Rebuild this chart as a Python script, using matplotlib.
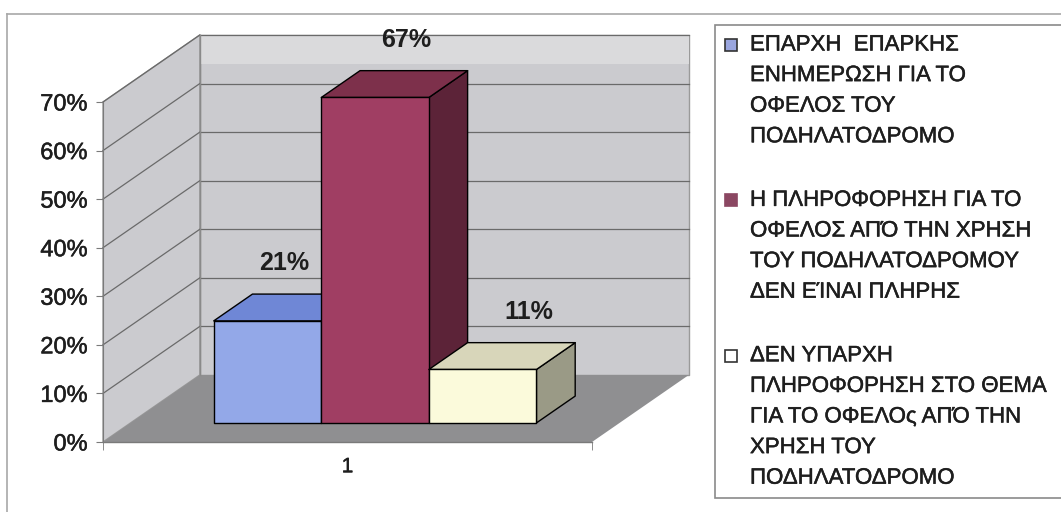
import matplotlib.pyplot as plt
import matplotlib.patheffects as pe
from matplotlib.patches import Polygon, Rectangle
from matplotlib.lines import Line2D
from matplotlib.ticker import PercentFormatter

plt.rcParams['font.family'] = ['Liberation Sans', 'DejaVu Sans']

# survey answers, one category with three series
categories = ['1']
series_values = [0.21, 0.67, 0.11]
series_labels = [
    ['ΕΠΑΡΧΗ  ΕΠΑΡΚΗΣ', 'ΕΝΗΜΕΡΩΣΗ ΓΙΑ ΤΟ', 'ΟΦΕΛΟΣ ΤΟΥ', 'ΠΟΔΗΛΑΤΟΔΡΟΜΟ'],
    ['Η ΠΛΗΡΟΦΟΡΗΣΗ ΓΙΑ ΤΟ', 'ΟΦΕΛΟΣ ΑΠΌ ΤΗΝ ΧΡΗΣΗ', 'ΤΟΥ ΠΟΔΗΛΑΤΟΔΡΟΜΟΥ',
     'ΔΕΝ ΕΊΝΑΙ ΠΛΗΡΗΣ'],
    ['ΔΕΝ ΥΠΑΡΧΗ', 'ΠΛΗΡΟΦΟΡΗΣΗ ΣΤΟ ΘΕΜΑ', 'ΓΙΑ ΤΟ ΟΦΕΛΟς ΑΠΌ ΤΗΝ', 'ΧΡΗΣΗ ΤΟΥ',
     'ΠΟΔΗΛΑΤΟΔΡΟΜΟ'],
]
y_ticks = [0, 0.1, 0.2, 0.3, 0.4, 0.5, 0.6, 0.7]

front_colors = ['#93a8e8', '#a03e63', '#fbfadb']
top_colors = ['#6f87d6', '#7d304b', '#d8d6ba']
side_colors = ['#5a70bf', '#5c2338', '#9a9a86']
legend_colors = ['#9aa6df', '#8b4762', '#ffffff']
wall_color = '#cbcbcf'
band_color = '#dadadc'
floor_color = '#8f8f91'
grid_color = '#6a6a6a'
text_color = '#1e1e1e'
heavy = [pe.withStroke(linewidth=0.35, foreground=text_color)]

W, H = 1061, 512
fig = plt.figure(figsize=(W / 100, H / 100), dpi=100)


def px(x, y):
    return (x / W, 1 - y / H)


# the axes is the front plane of the 3-D box
fx0, fy0 = px(103, 442)
fx1, fy1 = px(592, 102)
ax = fig.add_axes([fx0, fy0, fx1 - fx0, fy1 - fy0])
ax.set_xlim(0, 1)
ax.set_ylim(0, 0.7)
ax.patch.set_visible(False)

DX, DY = 0.198, 0.138     # full depth of the box in data units
bar_w = 0.22
bar_d0, bar_d1 = 0.285, 0.685


def proj(x, y, d):
    return (x + d * DX, y + d * DY)


def face(points, color, z, ec='black', lw=1.0):
    ax.add_patch(Polygon([proj(*p) for p in points], closed=True, fc=color,
                         ec=ec, lw=lw, zorder=z, clip_on=False,
                         joinstyle='round'))


top = y_ticks[-1]

# walls and floor
face([(0, 0, 1), (1, 0, 1), (1, top, 1), (0, top, 1)], wall_color, 1, ec='#9a9a9a')
face([(0, 0.64, 1), (1, 0.64, 1), (1, top, 1), (0, top, 1)], band_color, 1.1, ec='none')
face([(0, 0, 0), (0, 0, 1), (0, top, 1), (0, top, 0)], wall_color, 1, ec='#9a9a9a')
face([(0, 0, 0), (1, 0, 0), (1, 0, 1), (0, 0, 1)], floor_color, 1.2, ec='none')

for t in y_ticks[1:]:
    for seg in ([(0, t, 1), (1, t, 1)], [(0, t, 0), (0, t, 1)]):
        (xa, ya), (xb, yb) = [proj(*p) for p in seg]
        ax.add_line(Line2D([xa, xb], [ya, yb], color=grid_color, lw=0.9,
                           zorder=1.5, clip_on=False))
(xa, ya), (xb, yb) = proj(0, 0, 1), proj(0, top, 1)
ax.add_line(Line2D([xa, xb], [ya, yb], color='#8a8a8a', lw=1, zorder=1.5,
                   clip_on=False))

# bars, left to right so each front face covers the neighbour's side
start = 0.5 - bar_w * len(series_values) / 2
label_nudge = [-0.03, 0.0, 0.03]
for i, v in enumerate(series_values):
    x = start + i * bar_w
    z = 3 + i
    face([(x + bar_w, 0, bar_d0), (x + bar_w, 0, bar_d1), (x + bar_w, v, bar_d1),
          (x + bar_w, v, bar_d0)], side_colors[i], z)
    face([(x, v, bar_d0), (x + bar_w, v, bar_d0), (x + bar_w, v, bar_d1),
          (x, v, bar_d1)], top_colors[i], z)
    face([(x, 0, bar_d0), (x + bar_w, 0, bar_d0), (x + bar_w, v, bar_d0),
          (x, v, bar_d0)], front_colors[i], z)
    lx, ly = proj(x + bar_w / 2 + label_nudge[i], v, bar_d0 + 0.32)
    ax.text(lx, ly + 0.075, f'{v:.0%}', ha='center', va='center', fontsize=18,
            fontweight='bold', color=text_color, zorder=10, clip_on=False)

# axes decoration
for s in ['top', 'right', 'bottom']:
    ax.spines[s].set_visible(False)
ax.spines['left'].set_color('#7a7a7a')
ax.spines['left'].set_bounds(0, top)
ax.spines['left'].set_zorder(2)
ax.set_yticks(y_ticks)
ax.yaxis.set_major_formatter(PercentFormatter(1.0, decimals=0))
ax.tick_params(axis='y', length=5, color='#7a7a7a', pad=6, labelsize=17,
               labelcolor=text_color)
ax.set_xticks([0.5], categories)
ax.set_xticks([0, 1], minor=True)
ax.tick_params(axis='x', which='major', length=0, pad=11, labelsize=15,
               labelcolor=text_color)
ax.tick_params(axis='x', which='minor', length=6, color='#7a7a7a')
for lab in ax.get_yticklabels() + ax.get_xticklabels():
    lab.set_path_effects(heavy)
ax.add_line(Line2D([0, 1], [0, 0], color='#7a7a7a', lw=1, zorder=2,
                   clip_on=False))

# chart area frame
fig.add_artist(Line2D([px(7, 0)[0], px(7, 0)[0]], [px(0, 14)[1], 0],
                      color='#a8a8a8', lw=1.2, transform=fig.transFigure))
fig.add_artist(Line2D([px(7, 0)[0], 1], [px(0, 14)[1], px(0, 14)[1]],
                      color='#a8a8a8', lw=1.2, transform=fig.transFigure))

# legend drawn by hand so each label keeps its own line breaks
lx0, ly0 = px(715, 498)
lx1, ly1 = px(1070, 25)
fig.add_artist(Rectangle((lx0, ly0), lx1 - lx0, ly1 - ly0, fc='white',
                         ec='#8a8a8a', lw=1.2, transform=fig.transFigure))
line_h = 30.6
entry_gap = 33
y = 45
for i, lines in enumerate(series_labels):
    mx, my = px(725, y + 6)
    fig.add_artist(Rectangle((mx, my), 12 / W, 12 / H, fc=legend_colors[i],
                             ec='#333333' if i != 1 else legend_colors[i],
                             lw=1.2, transform=fig.transFigure))
    for line in lines:
        tx, ty = px(750, y)
        fig.text(tx, ty, line, ha='left', va='center', fontsize=16,
                 color=text_color, path_effects=heavy)
        y += line_h
    y += entry_gap

fig.savefig('out.png', dpi=100, facecolor='white')
